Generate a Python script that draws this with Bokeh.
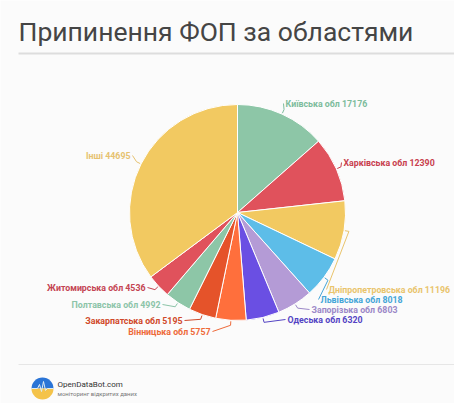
import math
from bokeh.plotting import figure
from bokeh.models import ColumnDataSource, Range1d
from bokeh.core.properties import value
from bokeh.embed import file_html
from bokeh.resources import INLINE

# ---- data (clockwise from top) ----
regions = ["Київська обл", "Харківська обл", "Дніпропетровська обл", "Львівська обл",
           "Запорізька обл", "Одеська обл", "Вінницька обл", "Закарпатська обл",
           "Полтавська обл", "Житомирська обл", "Інші"]
counts = [17176, 12390, 11196, 8018, 6803, 6320, 5757, 5195, 4992, 4536, 44695]
slice_colors = ["#8DC6A7", "#E0525C", "#F2C961", "#5DBDE8", "#B49BD6", "#6A4FE3",
                "#FF6F3C", "#E5532A", "#8DC6A7", "#E0525C", "#F2C961"]
label_colors = ["#7DBC9C", "#C8404E", "#E9C46C", "#45A6D8", "#9C88C8", "#5444C4",
                "#EE6A3A", "#D0492A", "#8CC4A8", "#C44452", "#E6C270"]
title = "Припинення ФОП за областями"
brand = "OpenDataBot.com"
brand_sub = "моніторинг відкритих даних"

# ---- layout (screen pixel coords of label anchors) ----
W, H = 454, 403
def X(xr): return xr
def Y(yr): return H - yr

label_pos = [(285, 103, "left"), (343, 162, "left"), (328, 289, "left"), (320, 299, "left"),
             (311, 309, "left"), (287, 319, "left"), (210, 331, "right"), (182, 320, "right"),
             (160, 304, "right"), (145, 287, "right"), (130, 155, "right")]

cx, cy, R = X(237), Y(212), 108

p = figure(width=W, height=H, x_range=Range1d(0, W), y_range=Range1d(0, H),
           x_axis_type=None, y_axis_type=None, toolbar_location=None,
           output_backend="svg", min_border=0, outline_line_color=None,
           background_fill_color="#FBFBFB", border_fill_color="#FBFBFB")
p.grid.visible = False

total = float(sum(counts))
starts, ends, mids = [], [], []
cum = 0.0
for c in counts:
    a0 = cum / total
    cum += c
    a1 = cum / total
    starts.append(math.pi / 2 - a1 * 2 * math.pi)
    ends.append(math.pi / 2 - a0 * 2 * math.pi)
    mids.append(math.pi / 2 - (a0 + a1) / 2 * 2 * math.pi)

src = ColumnDataSource(dict(start=starts, end=ends, color=slice_colors))
p.wedge(x=cx, y=cy, radius=R, start_angle="start", end_angle="end",
        fill_color="color", line_color="#FFFFFF", line_width=1, source=src)

# leader lines
xs, ys, lx, ly, txt, al = [], [], [], [], [], []
for i, m in enumerate(mids):
    ex, ey = cx + (R + 1) * math.cos(m), cy + (R + 1) * math.sin(m)
    bx, by = cx + (R + 5) * math.cos(m), cy + (R + 5) * math.sin(m)
    xr, yr, a = label_pos[i]
    tx = X(xr) - 2 if a == "left" else X(xr) + 2
    ty = Y(yr)
    xs.append([ex, bx, tx])
    ys.append([ey, by, ty])
    lx.append(X(xr)); ly.append(ty)
    txt.append(f"{regions[i]} {counts[i]}")
    al.append(a)

p.multi_line(xs=xs, ys=ys, line_color=label_colors, line_width=1)
lsrc = ColumnDataSource(dict(x=lx, y=ly, text=txt, align=al, color=label_colors))
p.text(x="x", y="y", text="text", text_align="align", text_baseline="middle",
       text_color="color", text_font=value("Roboto"), text_font_style="bold",
       text_font_size="8.8px", source=lsrc)

# title and rules
p.text(x=[X(18)], y=[Y(31)], text=[title], text_baseline="middle", text_align="left",
       text_color="#454545", text_font=value("Roboto"), text_font_size="26.5px")
p.segment(x0=[X(18)], y0=[Y(53)], x1=[X(454)], y1=[Y(53)], line_color="#DDDDDD", line_width=2)
p.segment(x0=[X(18)], y0=[Y(364)], x1=[X(454)], y1=[Y(364)], line_color="#E6E6E6", line_width=1)

# logo
lx0, ly0 = X(42), Y(388)
p.wedge(x=[lx0], y=[ly0], radius=11, start_angle=[0], end_angle=[math.pi],
        fill_color="#2A74D6", line_color=None)
p.wedge(x=[lx0], y=[ly0], radius=11, start_angle=[math.pi], end_angle=[2 * math.pi],
        fill_color="#F4C34A", line_color=None)
p.line(x=[lx0 - 11, lx0 - 5, lx0 - 3, lx0 - 1, lx0 + 1, lx0 + 3, lx0 + 5, lx0 + 11],
       y=[ly0, ly0, ly0 + 4, ly0 - 3, ly0 + 7, ly0 - 2, ly0, ly0],
       line_color="#DDEBF5", line_width=1)
p.text(x=[X(57)], y=[Y(384)], text=[brand], text_baseline="middle", text_color="#333333",
       text_font=value("Roboto"), text_font_size="8px")
p.text(x=[X(57)], y=[Y(393)], text=[brand_sub], text_baseline="middle", text_color="#777777",
       text_font=value("Roboto"), text_font_size="6px")

open("out.html", "w").write(file_html(p, INLINE))
